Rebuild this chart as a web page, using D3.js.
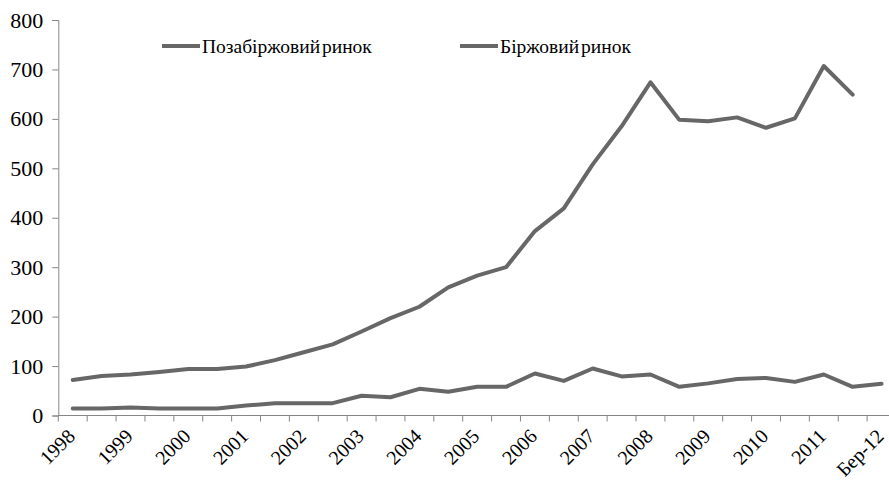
<!DOCTYPE html>
<html>
<head>
<meta charset="utf-8">
<script src="https://cdn.jsdelivr.net/npm/d3@7"></script>
<style>
  html, body { margin: 0; padding: 0; background: #fff; overflow: hidden; }
  svg { display: block; }
</style>
</head>
<body>
<svg id="chart" width="889" height="483"></svg>
<script>
// Semi-annual periods; label shown on every second period
const categories = ["1998","","1999","","2000","","2001","","2002","","2003","","2004","","2005","",
  "2006","","2007","","2008","","2009","","2010","","2011","","Бер-12"];
const seriesNames = ["Позабіржовий ринок", "Біржовий ринок"];
const otcValues = [72, 80, 83, 88, 94, 94, 99, 112, 128, 144, 170, 197, 220, 259, 283, 300,
  373, 419, 508, 585, 674, 598, 595, 603, 582, 601, 707, 649];
const exchangeValues = [14, 14, 16, 14, 14, 14, 20, 25, 25, 25, 40, 37, 54, 48, 58, 58,
  85, 70, 95, 79, 83, 58, 65, 74, 76, 68, 83, 58, 64];
const yTicks = [0, 100, 200, 300, 400, 500, 600, 700, 800];

const FONT = "'Liberation Serif', 'Times New Roman', serif";
const svg = d3.select("#chart");
const plotL = 58.3, plotR = 896, plotT = 20, plotB = 415.5;
const lineColor = "#676767", axisColor = "#868686";

const x = d3.scaleBand().domain(d3.range(categories.length)).range([plotL, plotR]).paddingInner(0).paddingOuter(0);
const y = d3.scaleLinear().domain([0, 800]).range([plotB, plotT]);

// Y axis
const yAxis = svg.append("g").attr("transform", `translate(${plotL},0)`)
  .call(d3.axisLeft(y).tickValues(yTicks).tickSize(6).tickPadding(9).tickFormat(d3.format("d")));
yAxis.attr("font-family", null).attr("font-size", null);
yAxis.select(".domain").attr("stroke", axisColor);
yAxis.selectAll(".tick line").attr("stroke", axisColor);
yAxis.selectAll(".tick text").style("font-family", FONT).style("font-size", "22px").attr("fill", "#000");

// X axis (ticks at band boundaries)
const xg = svg.append("g").attr("transform", `translate(0,${plotB})`);
xg.append("line").attr("x1", plotL).attr("x2", plotR).attr("stroke", axisColor);
const bounds = d3.range(categories.length + 1).map(i => plotL + i * x.bandwidth());
xg.selectAll("line.tk").data(bounds).join("line").attr("class", "tk")
  .attr("x1", d => d).attr("x2", d => d).attr("y1", 0).attr("y2", 6).attr("stroke", axisColor);
xg.selectAll("text.lbl").data(categories.map((c, i) => ({c, i})).filter(d => d.c !== ""))
  .join("text").attr("class", "lbl")
  .attr("transform", d => `translate(${x(d.i) + x.bandwidth() / 2 + 3.5},${22}) rotate(-45)`)
  .attr("text-anchor", "end")
  .style("font-family", FONT).style("font-size", "20px")
  .text(d => d.c);

// Lines
const line = d3.line().x((d, i) => x(i) + x.bandwidth() / 2).y(d => y(d));
[otcValues, exchangeValues].forEach(vals => {
  svg.append("path").datum(vals).attr("d", line)
    .attr("fill", "none").attr("stroke", lineColor).attr("stroke-width", 4)
    .attr("stroke-linejoin", "round").attr("stroke-linecap", "round");
});

// Legend
const legendX = [162, 460];
seriesNames.forEach((name, i) => {
  const g = svg.append("g").attr("transform", `translate(${legendX[i]},46)`);
  g.append("line").attr("x1", 0).attr("x2", 38).attr("stroke", lineColor).attr("stroke-width", 4);
  g.append("text").attr("x", 40).attr("y", 7).style("font-family", FONT).style("font-size", "19.5px")
    .style("word-spacing", "-3px").text(name);
});
</script>
</body>
</html>
